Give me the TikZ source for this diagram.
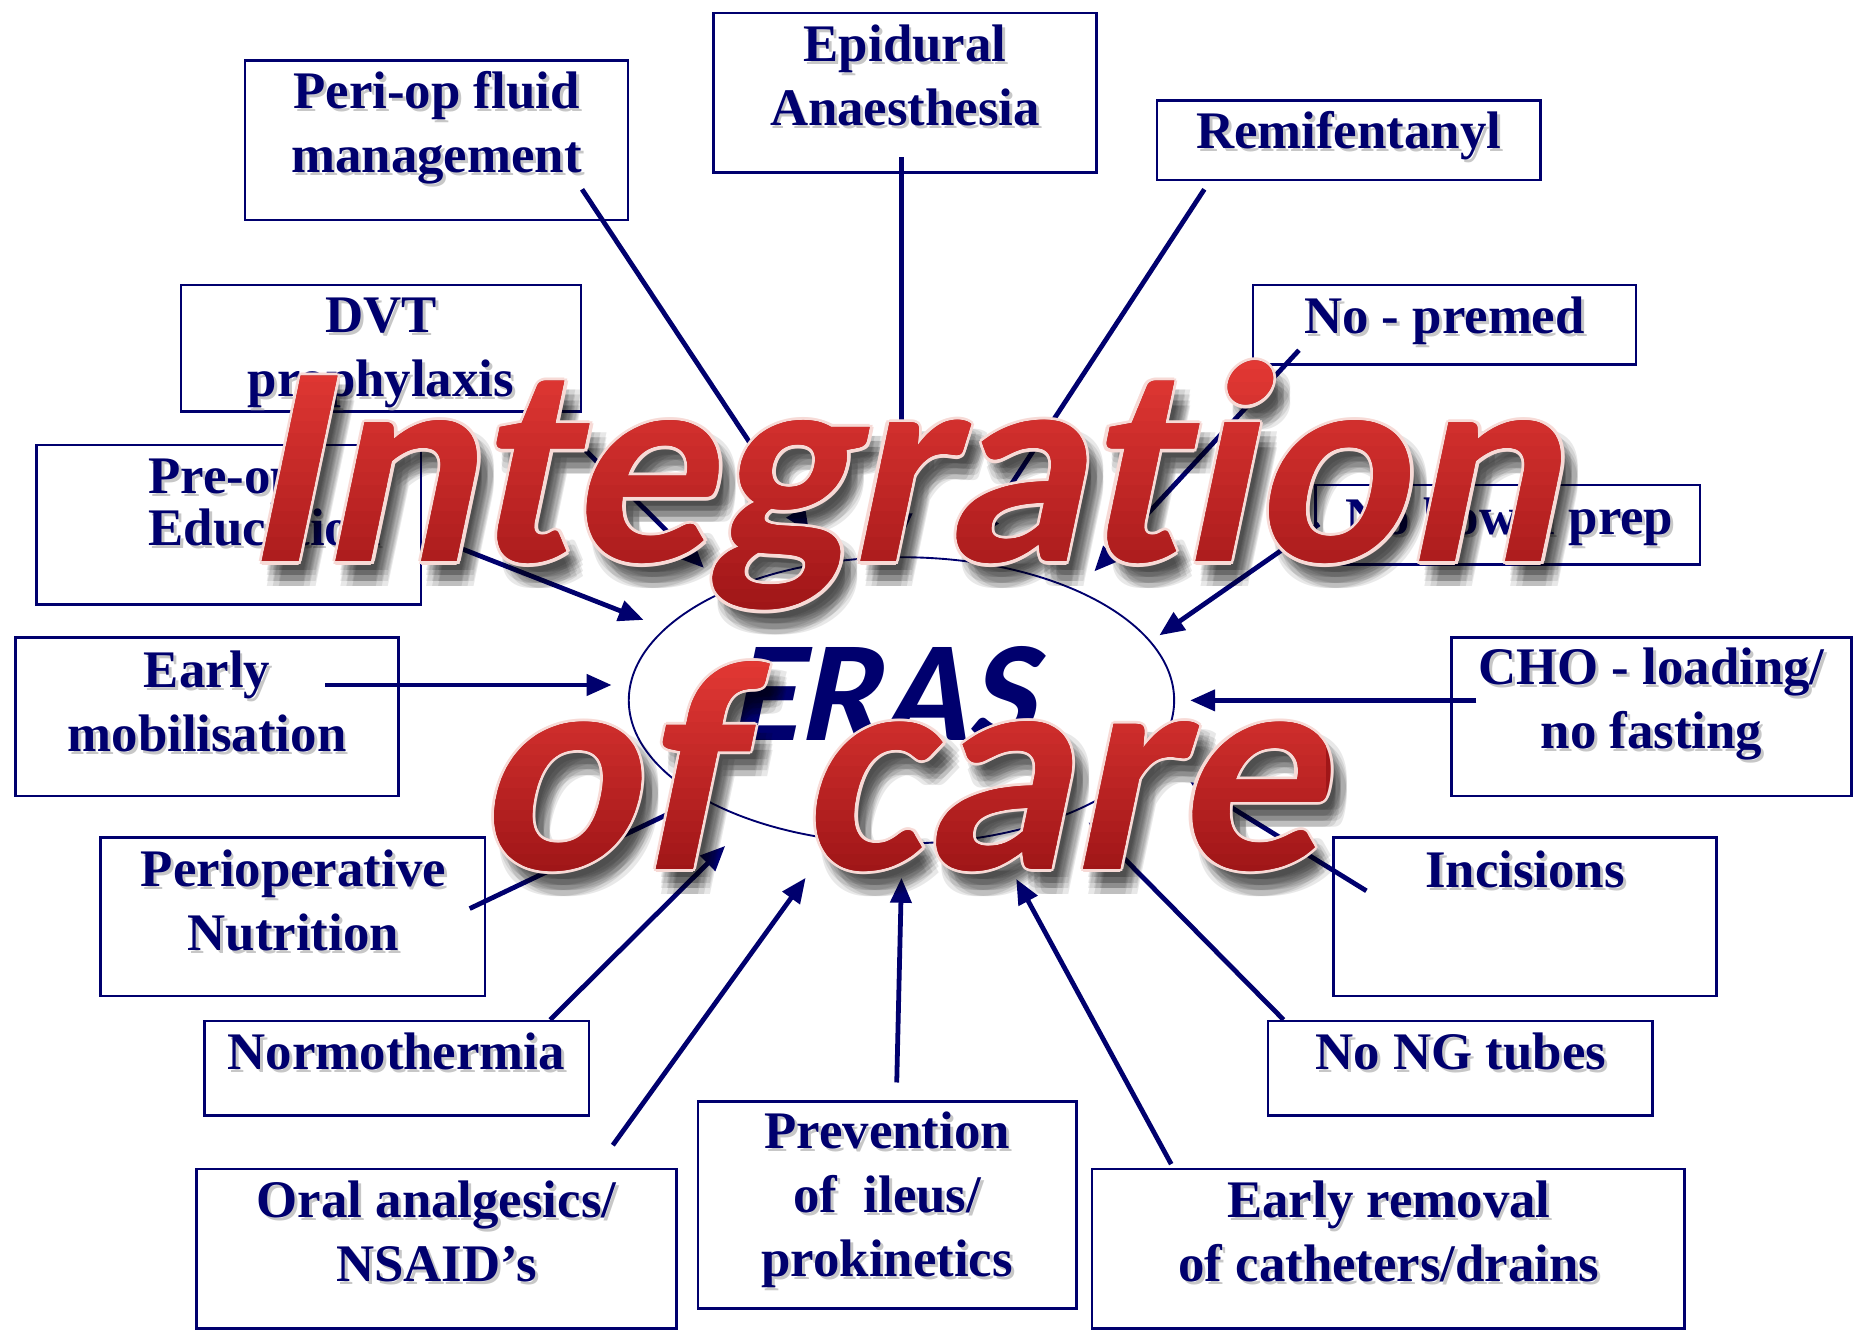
\documentclass[tikz,border=0pt]{standalone}
\usepackage{fontspec}
\setmainfont{Liberation Serif}
\newfontfamily\carlito{Carlito}[FakeSlant=0.21, RawFeature={-liga;-clig;-calt;-dlig}]
\usetikzlibrary{shapes.geometric,arrows.meta,calc}

\definecolor{navy}{RGB}{0,0,110}
\definecolor{redtop}{RGB}{226,56,52}
\definecolor{redbot}{RGB}{160,22,24}
\definecolor{rim}{RGB}{247,218,214}

\newcommand{\boxfont}{\fontsize{12.7}{15.4}\selectfont\bfseries}
\newcommand{\bigfont}{\carlito\fontsize{68.8}{68.8}\selectfont\bfseries}
\newcommand{\erasfont}{\carlito\fontsize{34.5}{34.5}\selectfont\bfseries}

\tikzset{
  box/.style={draw=navy, line width=0.6pt, inner sep=0pt},
  lbl/.style={text=navy, font=\boxfont, align=center, inner sep=0pt},
  link/.style={draw=navy, line width=1.15pt, -{Triangle[length=6pt,width=5pt]}},
  title/.style={font=\bigfont, inner sep=1pt, anchor=base},
}

% box text with a soft grey copy underneath
\newcommand{\lbltext}[4][]{%
  \node[lbl, #1, text=black!22] at ([shift={(0.7pt,-0.7pt)}]#3) {#4};
  \node[lbl, #1] (#2) at (#3) {#4};}

% big red word: blurred shadow, light rim, then the fill in thin bands
\newcommand{\titleword}[4][]{%
  \foreach \dx in {1.2,2.6,4} \foreach \dy in {-2,-3.3,-4.6,-5.9}
    \node[title, #1, text=black, opacity=0.09] at ([shift={(\dx pt,\dy pt)}]#3) {#4};
  \foreach \a in {0,45,...,315}
    \node[title, #1, text=rim] at ([shift={(\a:0.8pt)}]#3) {#4};
  \node[title, #1, text=redbot] (#2) at (#3) {#4};
  \foreach \i [evaluate=\i as \f using 100*\i/19] in {0,...,19} {
    \begin{scope}
      \clip ($(#2.north west)!\i/20!(#2.south west)$) rectangle ($(#2.north east)!{(\i+1.15)/20}!(#2.south east)$);
      \node[title, #1, text=redbot!\f!redtop] at (#3) {#4};
    \end{scope}}}

\begin{document}
\begin{tikzpicture}[x=0.1mm, y=-0.1mm]
\fill[white] (0,0) rectangle (1568,1127);
\useasboundingbox (0,0) rectangle (1568,1127);

% boxes
\node[box, minimum width=3.24cm, minimum height=1.35cm] (fluid) at (369,118.5) {};
\node[box, minimum width=3.24cm, minimum height=1.35cm] (epidural) at (765,78.5) {};
\node[box, minimum width=3.24cm, minimum height=0.67cm] (remi) at (1140,118.5) {};
\node[box, minimum width=3.38cm, minimum height=1.07cm] (dvt) at (322,294.5) {};
\node[box, minimum width=3.24cm, minimum height=0.67cm] (premed) at (1221,274.5) {};
\node[box, minimum width=3.25cm, minimum height=1.35cm] (preop) at (193.5,443.5) {};
\node[box, minimum width=3.25cm, minimum height=0.67cm] (bowel) at (1274.5,443.5) {};
\node[box, minimum width=3.24cm, minimum height=1.34cm] (mobil) at (175,606) {};
\node[box, minimum width=3.38cm, minimum height=1.34cm] (cho) at (1396,606) {};
\node[box, minimum width=3.25cm, minimum height=1.34cm] (nutri) at (247.5,775) {};
\node[box, minimum width=3.24cm, minimum height=1.34cm] (incis) at (1289,775) {};
\node[box, minimum width=3.25cm, minimum height=0.80cm] (normo) at (335.5,903) {};
\node[box, minimum width=3.25cm, minimum height=0.80cm] (ngtube) at (1234.5,903) {};
\node[box, minimum width=4.06cm, minimum height=1.35cm] (oral) at (369,1055.5) {};
\node[box, minimum width=3.20cm, minimum height=1.75cm] (prevent) at (750,1018.5) {};
\node[box, minimum width=5.01cm, minimum height=1.35cm] (removal) at (1173.5,1055.5) {};

% box texts
\lbltext{fluidtxt}{369,108}{Peri-op fluid\\management}
\lbltext{epitxt}{765,64}{Epidural\\Anaesthesia}
\lbltext{remitxt}{1140,115}{Remifentanyl}
\lbltext{dvttxt}{322,298}{DVT\\prophylaxis}
\lbltext{premedtxt}{1221,271}{No - premed}
\lbltext[anchor=west, align=left, font={\fontsize{12.7}{12.5}\selectfont\bfseries}]{preoptxt}{125,425}{Pre-op\\Education}
\lbltext{boweltxt}{1276,441}{No bowel prep}
\lbltext{mobiltxt}{175,593}{Early\\mobilisation}
\lbltext{chotxt}{1396,595}{CHO - loading/\\no fasting}
\lbltext{nutritxt}{248,761}{Perioperative\\Nutrition}
\lbltext{incistxt}{1289,735}{Incisions}
\lbltext{normotxt}{335,889}{Normothermia}
\lbltext{ngtubetxt}{1235,889}{No NG tubes}
\lbltext{oraltxt}{369,1041}{Oral analgesics/\\NSAID’s}
\lbltext{preventtxt}{750,1014}{Prevention\\of~~ileus/\\prokinetics}
\lbltext{removaltxt}{1174,1041}{Early removal\\of catheters/drains}

% connector ends
\coordinate (fluidout) at (492,160);    \coordinate (fluidin) at (684,450);
\coordinate (epiout) at (762,133);      \coordinate (epiin) at (762,455);
\coordinate (remiout) at (1018,160);    \coordinate (remiin) at (825,455);
\coordinate (premedout) at (1098,296);  \coordinate (premedin) at (925,483);
\coordinate (bowelout) at (1115,443);   \coordinate (bowelin) at (980,537);
\coordinate (choout) at (1248,592);     \coordinate (choin) at (1006,592);
\coordinate (incisout) at (1155,753);   \coordinate (incisin) at (1006,661);
\coordinate (ngtubeout) at (1085,862);  \coordinate (ngtubein) at (920,695);
\coordinate (removalout) at (990,984);  \coordinate (removalin) at (859,743);
\coordinate (preventout) at (758,915);  \coordinate (preventin) at (762,742);
\coordinate (oralout) at (518,968);     \coordinate (oralin) at (681,742);
\coordinate (normoout) at (465,862);    \coordinate (normoin) at (613,715);
\coordinate (nutriout) at (397,768);    \coordinate (nutriin) at (588,677);
\coordinate (mobilout) at (275,579);    \coordinate (mobilin) at (517,579);
\coordinate (preopout) at (360,452);    \coordinate (preopin) at (544,524);
\coordinate (dvtout) at (452,338);      \coordinate (dvtin) at (595,480);

\foreach \n in {fluid,epi,remi,premed,bowel,cho,incis,ngtube,removal,prevent,oral,normo,nutri,mobil,preop,dvt}
  \draw[link] (\n out) -- (\n in);

% centre
\node[draw=navy, line width=0.45pt, ellipse, minimum width=4.61cm, minimum height=2.42cm] (eras) at (762,592) {};
\node[font=\erasfont, text=navy, anchor=base] (erastxt) at (745,625.5) {ERAS};

\titleword{integ}{760,475}{Integration}
\titleword[font=\carlito\fontsize{72}{72}\selectfont\bfseries]{care}{758,735}{of care}
\end{tikzpicture}
\end{document}
